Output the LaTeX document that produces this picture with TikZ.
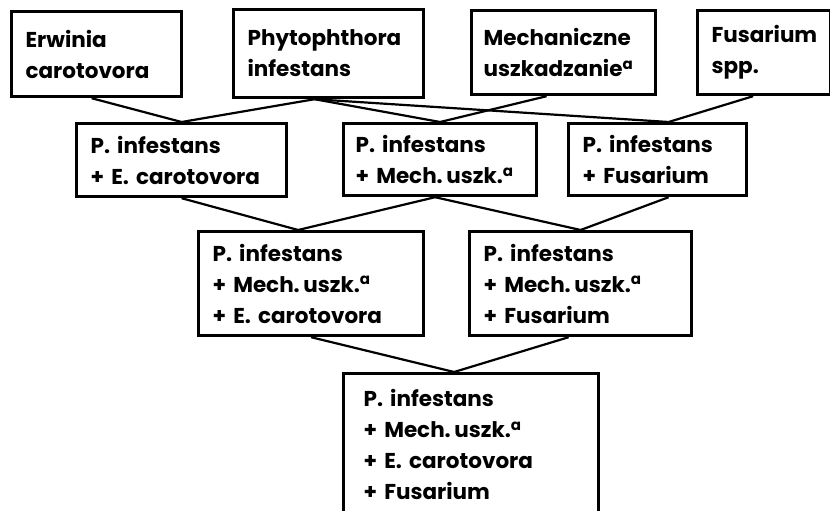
\documentclass[tikz,border=0pt]{standalone}
\usepackage{fontspec}
\setmainfont{Poppins}
\usepackage{tikz}
\usetikzlibrary{positioning}
\frenchspacing

\begin{document}
\begin{tikzpicture}[
    x=1pt, y=-1pt,
    font=\fontsize{21.5}{31}\selectfont\bfseries,
    box/.style={draw, line width=3.2pt, anchor=north west, inner xsep=14pt, inner ysep=3pt, align=left},
    link/.style={line width=2.2pt}
  ]
    \useasboundingbox (0,0) rectangle (830,511);
    \clip (0,0) rectangle (830,511);

    % single factors
    \node[box, text width=142pt, minimum height=85pt] (erw) at (10,10) {Erwinia\\carotovora};
    \node[box, text width=162pt, minimum height=88pt] (phy) at (232,8) {Phytophthora\\infestans};
    \node[box, text width=160pt, minimum height=84pt, inner xsep=12pt] (mech) at (470,9) {Mechaniczne\\uszkadzanie\textsuperscript{a}};
    \node[box, text width=105pt, minimum height=84pt] (fus) at (696,9) {Fusarium\\spp.};

    % pairs
    \node[box, text width=182pt, minimum height=73pt] (pe) at (75,122) {P. infestans\\+ E. carotovora};
    \node[box, text width=169pt, minimum height=72pt, inner xsep=12pt] (pm) at (342,122) {P. infestans\\+ Mech.\,uszk.\textsuperscript{a}};
    \node[box, text width=150pt, minimum height=72pt] (pf) at (567,122) {P. infestans\\+ Fusarium};

    % triples
    \node[box, text width=197pt, minimum height=104pt] (pme) at (197,230) {P. infestans\\+ Mech.\,uszk.\textsuperscript{a}\\+ E. carotovora};
    \node[box, text width=194pt, minimum height=104pt] (pmf) at (468,230) {P. infestans\\+ Mech.\,uszk.\textsuperscript{a}\\+ Fusarium};

    % all four
    \node[box, text width=215pt, minimum height=142pt, inner xsep=20pt] (all) at (342,372) {P. infestans\\+ Mech.\,uszk.\textsuperscript{a}\\+ E. carotovora\\+ Fusarium};

    \draw[link] ([xshift=-5pt]erw.south) -- (pe.north);
    \draw[link] ([xshift=-14pt]phy.south) -- (pe.north);
    \draw[link] ([xshift=-14pt]phy.south) -- (pm.north);
    \draw[link] ([xshift=-14pt]phy.south) -- ([xshift=11pt]pf.north);
    \draw[link] ([xshift=-17pt]mech.south) -- (pm.north);
    \draw[link] ([xshift=-11pt]fus.south) -- ([xshift=11pt]pf.north);

    \draw[link] (pe.south) -- ([xshift=-13pt]pme.north);
    \draw[link] ([xshift=-5pt]pm.south) -- ([xshift=-13pt]pme.north);
    \draw[link] ([xshift=-5pt]pm.south) -- (pmf.north);
    \draw[link] ([xshift=11pt]pf.south) -- (pmf.north);

    \draw[link] (pme.south) -- ([xshift=-17pt]all.north);
    \draw[link] ([xshift=-12pt]pmf.south) -- ([xshift=-17pt]all.north);
  \end{tikzpicture}
\end{document}
